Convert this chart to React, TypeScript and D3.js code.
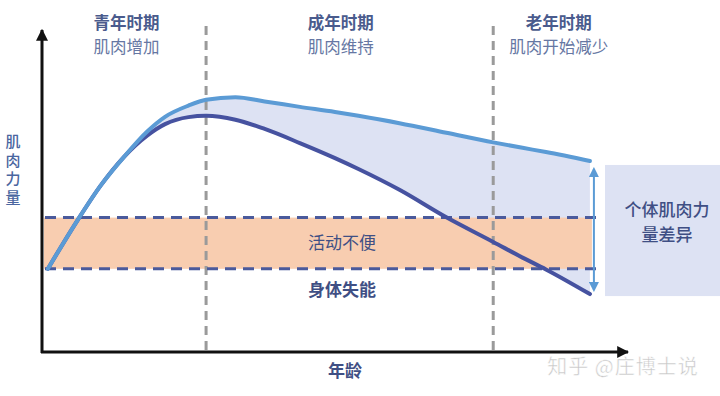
import React from 'react';
import * as d3 from 'd3';

// age (conceptual units) and muscle strength (0-100)
const ages = [1, 6, 10, 14, 18, 21, 25, 28, 33, 38, 44, 50, 54, 61, 69, 77, 82, 86, 93.5];
const upperStrength = [26, 41, 52, 61, 69, 73.5, 77, 78.8, 79.6, 78.3, 76.6, 75, 73.8, 71.5, 68.5, 65.5, 63.8, 62.5, 59.7];
const lowerStrength = [26, 41, 52, 61, 67.7, 71.2, 73.4, 73.8, 72.6, 69.7, 65.3, 60.6, 57.2, 50.7, 42.1, 34.4, 29.5, 25.8, 18.1];

const stageBounds = [28, 77];
const stageTitles = ['青年时期', '成年时期', '老年时期'];
const stageNotes = ['肌肉增加', '肌肉维持', '肌肉开始减少'];
const stageLabelAges = [14.4, 51, 88.2];

const limitationLevel = 42;
const disabilityLevel = 26;
const limitationLabel = '活动不便';
const disabilityLabel = '身体失能';
const yLabel = '肌肉力量';
const xLabel = '年龄';
const diffLabel = ['个体肌肉力', '量差异'];
const watermark = '知乎 @庄博士说';

const FONT = '"Noto Sans CJK SC", "Noto Sans", sans-serif';
const LIGHT_BLUE = '#5b9bd5';
const DARK_BLUE = '#4652a0';
const LAVENDER = '#dde2f3';
const PEACH = '#f8cdb0';
const TITLE = '#4a5b8d';
const NOTE = '#6677a3';
const LABEL = '#3f4f84';

const App = () => {
  const width = 720;
  const height = 396;

  const x = d3.scaleLinear().domain([0, 100]).range([42, 628]);
  const y = d3.scaleLinear().domain([0, 100]).range([352, 32]);

  const pts = ages.map((a, i) => ({ a, up: upperStrength[i], lo: lowerStrength[i] }));

  const upperLine = d3.line<any>().x(d => x(d.a)).y(d => y(d.up)).curve(d3.curveMonotoneX);
  const lowerLine = d3.line<any>().x(d => x(d.a)).y(d => y(d.lo)).curve(d3.curveMonotoneX);
  const gap = d3.area<any>().x(d => x(d.a)).y0(d => y(d.lo)).y1(d => y(d.up)).curve(d3.curveMonotoneX);

  const lastAge = ages[ages.length - 1];
  const endX = x(lastAge);
  const arrowX = endX + 4;
  const boxX = 605;
  const yTop = y(upperStrength[upperStrength.length - 1]);
  const yBot = y(lowerStrength[lowerStrength.length - 1]);
  const midX = x(51.2);

  return (
    <svg width={width} height={height} style={{ position: 'absolute', left: 0, top: 0, background: '#fff' }} fontFamily={FONT}>
      <defs>
        <marker id="axArrow" viewBox="0 0 10 10" refX="9" refY="5" markerWidth="4" markerHeight="4" orient="auto-start-reverse" markerUnits="strokeWidth">
          <path d="M0,0 L10,5 L0,10 z" fill="#111" />
        </marker>
        <marker id="diffArrow" viewBox="0 0 10 10" refX="8" refY="5" markerWidth="5" markerHeight="5" orient="auto-start-reverse" markerUnits="strokeWidth">
          <path d="M0,0 L10,5 L0,10 z" fill={LIGHT_BLUE} />
        </marker>
      </defs>

      {/* gap between the two trajectories */}
      <path d={gap(pts) || ''} fill={LAVENDER} />

      {/* individual difference box */}
      <rect x={boxX} y={yTop + 4} width={width - boxX} height={yBot - yTop - 2} fill={LAVENDER} />

      {/* limitation band */}
      <rect x={44} y={y(limitationLevel)} width={endX - 44 + 2} height={y(disabilityLevel) - y(limitationLevel)} fill={PEACH} />

      {/* stage dividers */}
      {stageBounds.map((b, i) => (
        <line key={i} x1={x(b)} x2={x(b)} y1={26} y2={350} stroke="#9a9a9a" strokeWidth={3} strokeDasharray="9 6" />
      ))}

      {/* threshold lines */}
      {[limitationLevel, disabilityLevel].map((v, i) => (
        <line key={i} x1={45} x2={603} y1={y(v)} y2={y(v)} stroke="#4a5a9c" strokeWidth={3} strokeDasharray="11 7" />
      ))}

      <path d={lowerLine(pts) || ''} fill="none" stroke={DARK_BLUE} strokeWidth={4} strokeLinecap="round" />
      <path d={upperLine(pts) || ''} fill="none" stroke={LIGHT_BLUE} strokeWidth={4} strokeLinecap="round" />

      {/* double arrow */}
      <line x1={arrowX} x2={arrowX} y1={yTop + 8} y2={yBot - 4} stroke={LIGHT_BLUE} strokeWidth={2}
        markerStart="url(#diffArrow)" markerEnd="url(#diffArrow)" />

      {/* axes */}
      <line x1={42} x2={42} y1={353} y2={30} stroke="#111" strokeWidth={3} markerEnd="url(#axArrow)" />
      <line x1={41} x2={628} y1={352} y2={352} stroke="#111" strokeWidth={3} markerEnd="url(#axArrow)" />

      {/* stage labels */}
      {stageTitles.map((t, i) => (
        <g key={t}>
          <text x={x(stageLabelAges[i])} y={29} textAnchor="middle" fontSize={16.5} fontWeight={700} fill={TITLE}>{t}</text>
          <text x={x(stageLabelAges[i])} y={53} textAnchor="middle" fontSize={16.5} fill={NOTE}>{stageNotes[i]}</text>
        </g>
      ))}

      <text x={midX} y={249} textAnchor="middle" fontSize={17} fill={LABEL}>{limitationLabel}</text>
      <text x={midX} y={296} textAnchor="middle" fontSize={17} fontWeight={700} fill={LABEL}>{disabilityLabel}</text>

      <text x={13} y={134} writingMode="vertical-rl" fontSize={15} fontWeight={500} letterSpacing={3.5} fill="#4a66a0">{yLabel}</text>

      <text x={345} y={377} textAnchor="middle" fontSize={17} fontWeight={700} fill={LABEL}>{xLabel}</text>

      {diffLabel.map((t, i) => (
        <text key={i} x={667} y={216 + i * 25} textAnchor="middle" fontSize={17} fontWeight={500} fill={LABEL}>{t}</text>
      ))}

      <text x={623} y={374} textAnchor="middle" fontSize={20} letterSpacing={1} fill="#c6c6c6" stroke="#fff" strokeWidth={0.5}>{watermark}</text>
    </svg>
  );
};

export default App;
